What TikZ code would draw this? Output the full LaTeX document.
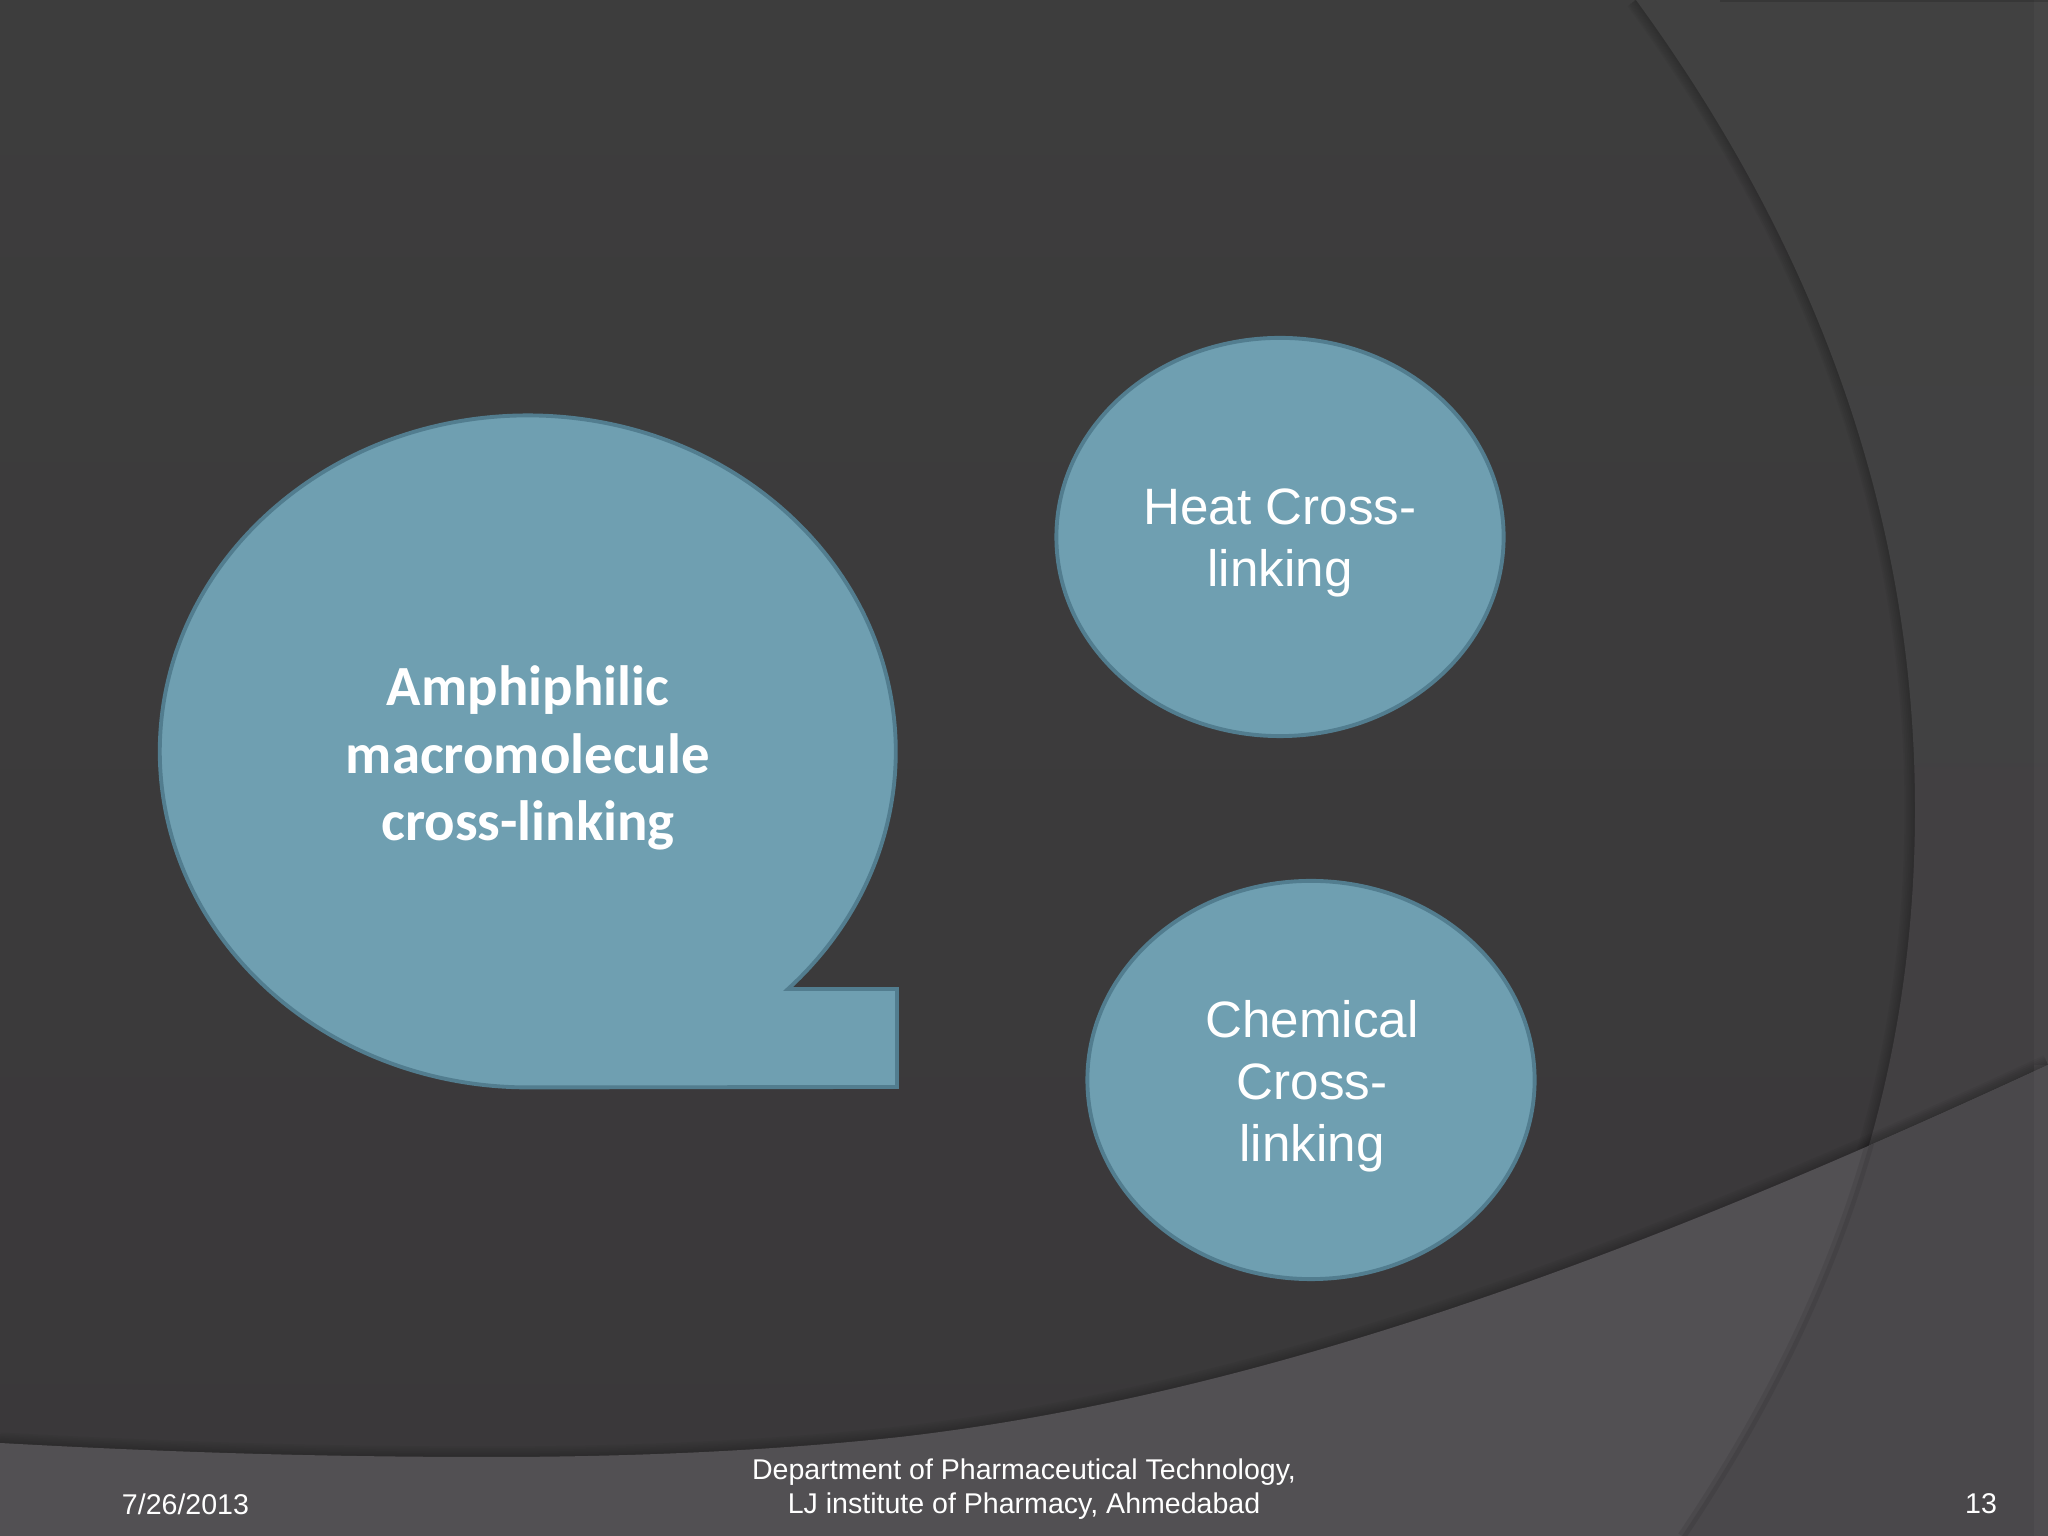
\documentclass[tikz,border=0pt]{standalone}
\usepackage{fontspec}
\setmainfont{Liberation Sans}
\newfontfamily\boldfont{Carlito}
\usetikzlibrary{shapes.geometric}

\definecolor{slidetop}{HTML}{3D3D3D}
\definecolor{slidelow}{HTML}{3A383A}
\definecolor{sidetop}{HTML}{414141}
\definecolor{sidelow}{HTML}{424043}
\definecolor{bandleft}{HTML}{525053}
\definecolor{bandright}{HTML}{4A484B}
\definecolor{bubblefill}{HTML}{6F9FB1}
\definecolor{bubbleline}{HTML}{527D8F}

\newcommand{\arcline}{(1636,1536) .. controls (1830,1270) and (1915,1000) .. (1915,726) .. controls (1915,450) and (1830,220) .. (1682,0)}
\newcommand{\bandline}{(0,93) .. controls (180,83) and (330,79) .. (491,79) .. controls (630,79) and (770,85) .. (900,99) .. controls (1300,145) and (1700,310) .. (2048,471)}

\tikzset{
    bubble/.style={draw=bubbleline, line width=1.1pt, fill=bubblefill},
    blob/.style={bubble, ellipse, minimum width=4.47cm, minimum height=3.98cm, inner sep=0pt},
    blobtext/.style={align=center, text=white, font=\fontsize{14.55}{17.6}\selectfont},
    bubbletext/.style={align=center, text=white, font=\fontsize{16.15}{19.3}\selectfont\boldfont\bfseries},
    footer/.style={align=center, text=white, font=\fontsize{8.12}{9.7}\selectfont},
}

\begin{document}
\begin{tikzpicture}[x=0.01cm, y=0.01cm]
    \useasboundingbox (0,0) rectangle (2048,1536);

    % slide background
    \shade[top color=slidetop, bottom color=slidelow] (0,0) rectangle (2048,1536);
    \foreach \w in {1,2,3,4,5,6} {
        \draw[black, opacity=0.035, line width=\w*1pt] \arcline;
    }
    \shade[top color=sidetop, bottom color=sidelow] \arcline -- (2048,0) -- (2048,1536) -- cycle;
    \fill[white, opacity=0.03] (2034,0) rectangle (2048,1536);
    \draw[black, opacity=0.15, line width=0.5pt] (1720,1535) -- (2048,1535);

    % lower band
    \foreach \w in {1,2,3,4,5,6} {
        \draw[black, opacity=0.035, line width=\w*1pt] \bandline;
    }
    \fill[bandleft] \bandline -- (2048,0) -- (0,0) -- cycle;
    \begin{scope}
        \clip \arcline -- (2048,0) -- (2048,1536) -- cycle;
        \fill[bandright] \bandline -- (2048,0) -- (0,0) -- cycle;
    \end{scope}
    \fill[white, opacity=0.03] (2034,0) rectangle (2048,471);
    \begin{scope}
        \clip \bandline -- (2048,0) -- (0,0) -- cycle;
        \draw[black, opacity=0.08, line width=2.5pt] \arcline;
    \end{scope}

    % shapes
    \coordinate (notch) at (788,547);
    \coordinate (tailtop) at (897,547);
    \coordinate (tailend) at (897,449);
    \draw[bubble, miter limit=10] (notch) arc[start angle=-45, end angle=270, x radius=368, y radius=336] -- (tailend) -- (tailtop) -- cycle;
    \node[bubbletext] (amphi) at (528,778) {Amphiphilic\\macromolecule\\cross-linking};
    \node[blob] (heat) at (1280,999) {};
    \node[blobtext] (heattext) at (1280,993) {Heat Cross-\\linking};
    \node[blob] (chemical) at (1311,456) {};
    \node[blobtext] (chemicaltext) at (1312,450) {Chemical\\Cross-\\linking};

    % footer
    \node[footer] (date) at (185.5,32) {7/26/2013};
    \node[footer] (dept) at (1024,46.5) {Department of Pharmaceutical Technology,\\LJ institute of Pharmacy, Ahmedabad};
    \node[footer] (page) at (1981,32) {13};
\end{tikzpicture}
\end{document}
